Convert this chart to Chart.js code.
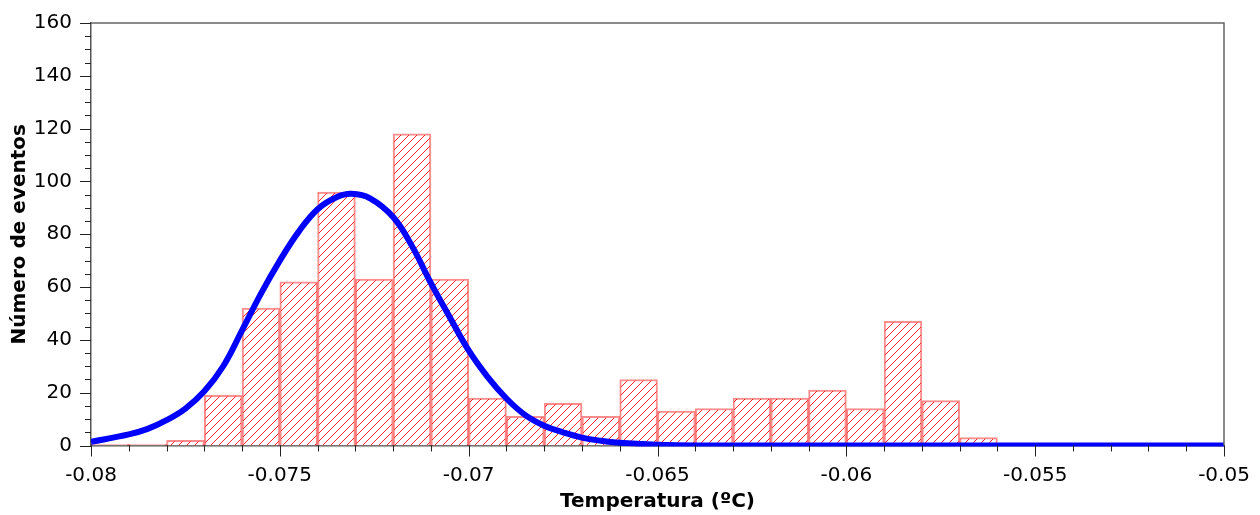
<!DOCTYPE html>
<html lang="es">
<head>
<meta charset="UTF-8">
<script src="https://cdn.jsdelivr.net/npm/chart.js"></script>
<style>
  body { margin: 0; background: #fff; }
</style>
</head>
<body>
<canvas id="chart" width="1260" height="515"></canvas>
<script>
// histogram bins (bin centres, width 0.001) and counts
const binCenters = [-0.0795, -0.0785, -0.0775, -0.0765, -0.0755, -0.0745, -0.0735, -0.0725,
    -0.0715, -0.0705, -0.0695, -0.0685, -0.0675, -0.0665, -0.0655, -0.0645,
    -0.0635, -0.0625, -0.0615, -0.0605, -0.0595, -0.0585, -0.0575, -0.0565];
const counts = [0.5, 0.5, 2, 19, 52, 62, 96, 63,
    118, 63, 18, 11, 16, 11, 25, 13,
    14, 18, 18, 21, 14, 47, 17, 3];

// fitted curve
const curveX = [-0.0800, -0.0790, -0.0785, -0.0780, -0.0775, -0.0770, -0.0765, -0.0760, -0.0755,
    -0.0750, -0.0745, -0.0740, -0.0735, -0.0731, -0.0726, -0.0720, -0.0715, -0.0710,
    -0.0705, -0.0700, -0.0695, -0.0690, -0.0685, -0.0680, -0.0675, -0.0670, -0.0665,
    -0.0660, -0.0650, -0.0640, -0.0600, -0.0550, -0.0500];
const curveY = [1.4, 4.2, 6.3, 9.6, 14, 20.5, 30, 43.6, 57.5,
    70, 81, 89.5, 94, 95.3, 93.5, 86.5, 75.5, 61.5,
    48.6, 36, 26, 17.8, 11.5, 7.5, 5, 3, 1.8,
    1.0, 0.3, 0, 0, 0, 0];

const xTicks = { min: -0.08, max: -0.05, minor: 0.001, major: 0.005 };
const yTicks = { min: 0, max: 160, minor: 5, major: 20 };

function isMajor(v, step) {
    return Math.abs(Math.round(v / step) * step - v) < step * 1e-6;
}

// diagonal hatching inside each bar
const hatch = {
    id: 'hatch',
    afterDatasetDraw(chart, args) {
        if (args.meta.type !== 'bar') return;
        const ctx = chart.ctx;
        const gap = 8;
        ctx.save();
        ctx.strokeStyle = 'rgba(255,0,0,0.85)';
        ctx.lineWidth = 1;
        args.meta.data.forEach(el => {
            const p = el.getProps(['x', 'y', 'base', 'width'], true);
            const l = p.x - p.width / 2 + 1, r = p.x + p.width / 2 - 1;
            const t = Math.min(p.y, p.base) + 1, b = Math.max(p.y, p.base);
            if (b - t < 1) return;
            ctx.save();
            ctx.beginPath();
            ctx.rect(l, t, r - l, b - t);
            ctx.clip();
            ctx.beginPath();
            for (let c = Math.floor((l + t) / gap) * gap; c <= r + b; c += gap) {
                ctx.moveTo(c - b, b);
                ctx.lineTo(c - t, t);
            }
            ctx.stroke();
            ctx.restore();
        });
        ctx.restore();
    }
};

// minor / major tick marks outside the plot, plus the top and right frame
const frame = {
    id: 'frame',
    afterDraw(chart) {
        const { ctx, chartArea: a } = chart;
        const xs = chart.scales.x, ys = chart.scales.y;
        ctx.save();
        ctx.strokeStyle = '#222';
        ctx.lineWidth = 1;
        ctx.beginPath();
        xs.ticks.forEach(t => {
            const px = Math.round(xs.getPixelForValue(t.value)) + 0.5;
            const len = isMajor(t.value, xTicks.major) ? 11 : 6;
            ctx.moveTo(px, a.bottom);
            ctx.lineTo(px, a.bottom + len);
        });
        ys.ticks.forEach(t => {
            const py = Math.round(ys.getPixelForValue(t.value)) + 0.5;
            const len = isMajor(t.value, yTicks.major) ? 11 : 6;
            ctx.moveTo(a.left, py);
            ctx.lineTo(a.left - len, py);
        });
        ctx.stroke();
        ctx.strokeStyle = '#666';
        ctx.lineWidth = 1.5;
        ctx.beginPath();
        ctx.moveTo(a.left, a.top);
        ctx.lineTo(a.right, a.top);
        ctx.lineTo(a.right, a.bottom);
        ctx.stroke();
        ctx.restore();
    }
};

new Chart(document.getElementById('chart'), {
    type: 'bar',
    data: {
        datasets: [
            {
                type: 'line',
                data: curveX.map((x, i) => ({ x: x, y: curveY[i] })),
                borderColor: 'rgb(0,0,255)',
                borderWidth: 6,
                pointRadius: 0,
                tension: 0.4,
                clip: { left: 0, top: 0, right: 0, bottom: 1 },
                order: 0
            },
            {
                type: 'bar',
                data: binCenters.map((x, i) => ({ x: x, y: counts[i] })),
                backgroundColor: '#fff',
                borderColor: 'rgba(255,0,0,0.45)',
                borderWidth: 2,
                barPercentage: 1,
                categoryPercentage: 1,
                order: 1
            }
        ]
    },
    options: {
        responsive: false,
        animation: false,
        layout: { padding: { left: 0, right: 36, top: 21, bottom: 0 } },
        plugins: { legend: { display: false }, tooltip: { enabled: false } },
        scales: {
            x: {
                type: 'linear',
                offset: false,
                min: xTicks.min,
                max: xTicks.max,
                grid: { display: false },
                border: { display: true, color: '#555', width: 1.5 },
                ticks: {
                    stepSize: xTicks.minor,
                    autoSkip: false,
                    maxRotation: 0,
                    padding: 10,
                    color: '#000',
                    font: { family: 'DejaVu Sans', size: 20 },
                    callback: v => isMajor(v, xTicks.major) ? String(+v.toFixed(3)) : ''
                },
                title: {
                    display: true,
                    text: 'Temperatura (ºC)',
                    color: '#000',
                    font: { family: 'DejaVu Sans', size: 20, weight: 'bold' },
                    padding: { top: 0, bottom: 1 }
                },
                afterFit: s => { s.height = 69.5; }
            },
            y: {
                min: yTicks.min,
                max: yTicks.max,
                grid: { display: false },
                border: { display: true, color: '#555', width: 1.5 },
                ticks: {
                    stepSize: yTicks.minor,
                    autoSkip: false,
                    padding: 11,
                    color: '#000',
                    font: { family: 'DejaVu Sans', size: 20 },
                    callback: v => isMajor(v, yTicks.major) ? String(v) : ''
                },
                title: {
                    display: true,
                    text: 'Número de eventos',
                    color: '#000',
                    font: { family: 'DejaVu Sans', size: 20, weight: 'bold' },
                    padding: { top: 8, bottom: 0 }
                },
                afterFit: s => { s.width = 91; }
            }
        }
    },
    plugins: [hatch, frame]
});
</script>
</body>
</html>
